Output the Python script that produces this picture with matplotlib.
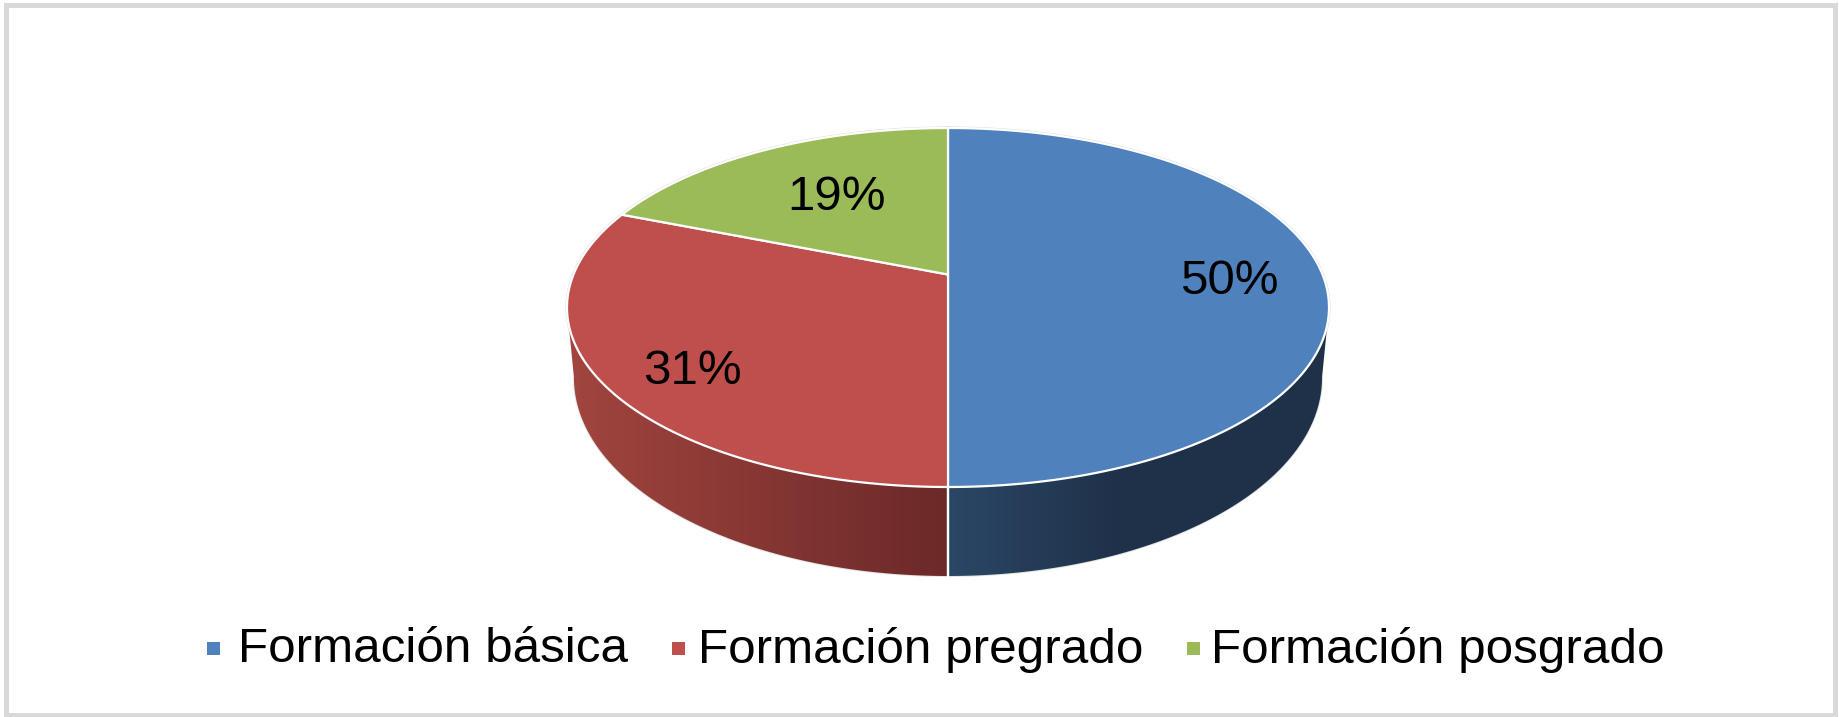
import numpy as np
import matplotlib
import matplotlib.pyplot as plt
from matplotlib.colors import LinearSegmentedColormap
from matplotlib.patches import Polygon, Rectangle

matplotlib.use("Agg")
plt.rcParams["font.family"] = ["Liberation Sans", "DejaVu Sans"]

# data
categories = ["Formación básica", "Formación pregrado", "Formación posgrado"]
percent = [50, 31, 19]

top_colors = ["#4F81BD", "#BE4F4C", "#9BBB59"]
side_colors = [
    [(0.0, "#2B4766"), (0.45, "#1F3149"), (1.0, "#1F3249")],
    [(0.0, "#A2453F"), (1.0, "#6B2928")],
    [(0.0, "#7A8F45"), (1.0, "#5F7035")],
]

# pie geometry in pixels of the output picture
cx = 948.0
y_back = 128.0
y_apex = 274.5
y_front = 487.0
rim_rx = 381.0
# lower edge of the wall, a slightly narrower and rounder ellipse
low_rx = 374.0
low_mid = 378.0
low_ry = 198.0

# the 3D pie has perspective, so the centre of the circle sits above the ellipse centre
up = y_apex - y_back
down = y_front - y_apex
k = (down - up) / (down + up)
a = up * (1 + k)
b = rim_rx * np.sqrt(1 - k ** 2)
y_mid = (y_back + y_front) / 2
rim_ry = (y_front - y_back) / 2
front_start = np.arccos(-k)
front_end = 2 * np.pi - front_start


def rim(phi):
    # phi runs clockwise from the back of the pie
    d = 1 + k * np.cos(phi)
    return cx + b * np.sin(phi) / d, y_apex - a * np.cos(phi) / d


def lower_rim(phi):
    x, y = rim(phi)
    return cx + low_rx / rim_rx * (x - cx), low_mid + low_ry / rim_ry * (y - y_mid)


fig = plt.figure(figsize=(18.39, 7.17), dpi=100)
ax = fig.add_axes([0, 0, 1, 1])

edges = 2 * np.pi * np.concatenate([[0], np.cumsum(percent)]) / sum(percent)

# faint grey outline around the whole body
phi_all = np.linspace(front_start, front_end, 400)
ax.plot(*lower_rim(phi_all), color="#E2E2E2", lw=1.4, zorder=0.5)
ax.plot(*rim(np.linspace(0, 2 * np.pi, 800)), color="#DADADA", lw=2.2, zorder=0.5)

# side walls first
for i in range(len(percent)):
    start = max(edges[i], front_start)
    end = min(edges[i + 1], front_end)
    if end <= start:
        continue
    phi = np.linspace(start, end, 200)
    xt, yt = rim(phi)
    xb, yb = lower_rim(phi[::-1])
    pts = np.column_stack([np.r_[xt, xb], np.r_[yt, yb]])
    poly = Polygon(pts, closed=True, facecolor="none", edgecolor="none")
    ax.add_patch(poly)
    left, right = pts[:, 0].min(), pts[:, 0].max()
    stops = side_colors[i]
    cmap = LinearSegmentedColormap.from_list("side%d" % i, stops)
    grad = np.linspace(0, 1, 256).reshape(1, -1)
    im = ax.imshow(grad, cmap=cmap, extent=[left, right, pts[:, 1].max(), pts[:, 1].min()],
                   aspect="auto", zorder=1, interpolation="bilinear")
    im.set_clip_path(poly)
    # white seam where two slices meet on the wall
    for edge in [edges[i], edges[i + 1]]:
        if front_start < edge < front_end:
            x0, y0 = rim(edge)
            x1, y1 = lower_rim(edge)
            ax.plot([x0, x1], [y0, y1], color="white", lw=1.6, zorder=2)

# top of the pie
for i in range(len(percent)):
    phi = np.linspace(edges[i], edges[i + 1], 300)
    x, y = rim(phi)
    pts = np.column_stack([np.r_[cx, x], np.r_[y_apex, y]])
    ax.add_patch(Polygon(pts, closed=True, facecolor=top_colors[i], edgecolor="white",
                         lw=1.6, joinstyle="round", zorder=3))

# percent labels
label_xy = [(1229, 281), (692, 371), (837, 198)]
for value, (x, y) in zip(percent, label_xy):
    ax.text(x, y, "%d%%" % value, fontsize=35.5, color="black", ha="center", va="center", zorder=4)

# legend
marker_x = [207, 672, 1187]
text_x = [238, 698, 1211]
for i, name in enumerate(categories):
    ax.add_patch(Rectangle((marker_x[i], 642), 13, 13, facecolor=top_colors[i], edgecolor="none"))
    ax.text(text_x[i], 650, name, fontsize=35.6, color="black", ha="left", va="center")

# frame of the picture
ax.add_patch(Rectangle((6.5, 4.5), 1829, 710, facecolor="none", edgecolor="#D9D9D9", lw=3.6))

ax.set_xlim(0, 1839)
ax.set_ylim(717, 0)
ax.axis("off")
fig.savefig("out.png", dpi=100, facecolor="white")
